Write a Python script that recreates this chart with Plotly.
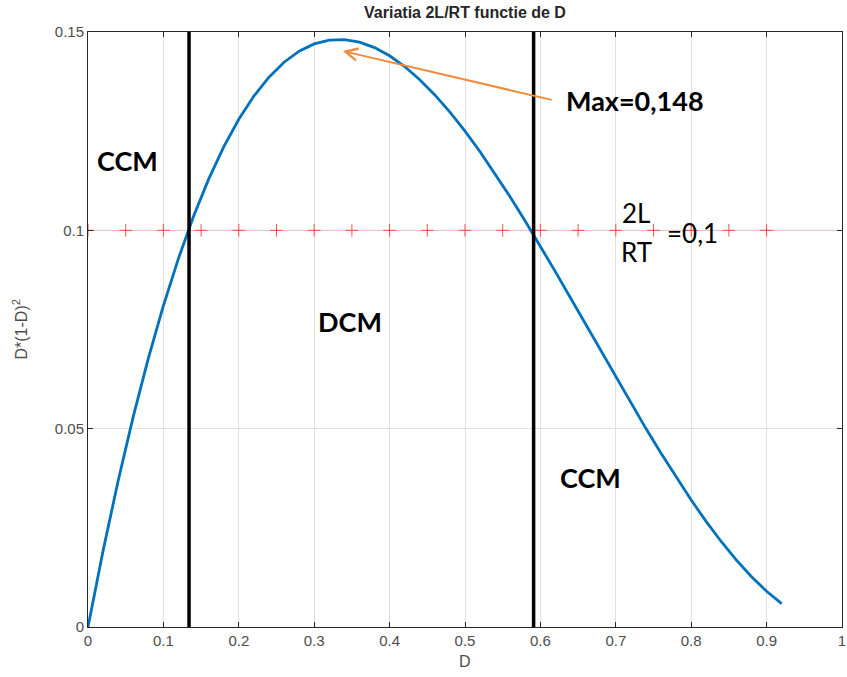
import plotly.graph_objects as go

# Duty cycle D and the normalised boundary value D*(1-D)^2
d_vals = [0.00, 0.02, 0.04, 0.06, 0.08, 0.10, 0.12, 0.14, 0.16, 0.18,
          0.20, 0.22, 0.24, 0.26, 0.28, 0.30, 0.32, 0.34, 0.36, 0.38,
          0.40, 0.42, 0.44, 0.46, 0.48, 0.50, 0.52, 0.54, 0.56, 0.58,
          0.60, 0.62, 0.64, 0.66, 0.68, 0.70, 0.72, 0.74, 0.76, 0.78,
          0.80, 0.82, 0.84, 0.86, 0.88, 0.90, 0.92]
k_vals = [0.0, 0.01921, 0.03686, 0.05302, 0.06771, 0.08100, 0.09293, 0.10354,
          0.11290, 0.12103, 0.12800, 0.13385, 0.13862, 0.14238, 0.14515,
          0.14700, 0.14797, 0.14810, 0.14746, 0.14607, 0.14400, 0.14129,
          0.13798, 0.13414, 0.12979, 0.12500, 0.11981, 0.11426, 0.10842,
          0.10231, 0.09600, 0.08953, 0.08294, 0.07630, 0.06963, 0.06300,
          0.05645, 0.05002, 0.04378, 0.03775, 0.03200, 0.02657, 0.02150,
          0.01686, 0.01267, 0.00900, 0.00589]

# Reference level 2L/RT = 0.1 sampled with markers
ref_d = [0.00, 0.05, 0.10, 0.15, 0.20, 0.25, 0.30, 0.35, 0.40, 0.45,
         0.50, 0.55, 0.60, 0.65, 0.70, 0.75, 0.80, 0.85, 0.90]
ref_level = 0.1

# Mode boundaries (intersections of the curve with the reference level)
boundaries = [0.134, 0.591]

# Maximum of the curve
max_label = "Max=0,148"
max_point = (0.338, 0.1452)
arrow_tail = (0.617, 0.1328)

x_ticks = [0, 0.1, 0.2, 0.3, 0.4, 0.5, 0.6, 0.7, 0.8, 0.9, 1]
x_tick_text = ["0", "0.1", "0.2", "0.3", "0.4", "0.5", "0.6", "0.7", "0.8", "0.9", "1"]
y_ticks = [0, 0.05, 0.1, 0.15]
y_tick_text = ["0", "0.05", "0.1", "0.15"]

fig = go.Figure()

# faint red line through the reference markers
fig.add_trace(go.Scatter(x=[0, 1], y=[ref_level, ref_level], mode="lines",
                         line=dict(color="rgba(255,0,0,0.15)", width=1),
                         hoverinfo="skip", showlegend=False))
fig.add_trace(go.Scatter(x=ref_d, y=[ref_level] * len(ref_d), mode="markers",
                         marker=dict(symbol="cross-thin", size=9,
                                     line=dict(color="rgba(255,60,60,0.9)", width=1)),
                         showlegend=False))

fig.add_trace(go.Scatter(x=d_vals, y=k_vals, mode="lines",
                         line=dict(color="#0072BD", width=2.8),
                         showlegend=False))

for b in boundaries:
    fig.add_trace(go.Scatter(x=[b, b], y=[0, 0.15], mode="lines",
                             line=dict(color="black", width=3.5),
                             showlegend=False))

# arrow pointing to the maximum
fig.add_annotation(x=max_point[0], y=max_point[1], ax=arrow_tail[0], ay=arrow_tail[1],
                   xref="x", yref="y", axref="x", ayref="y", text="",
                   showarrow=True, arrowhead=5, arrowsize=1.2, arrowwidth=2,
                   arrowcolor="#F08A3C", standoff=0)

bold_font = dict(family="Lato, Open Sans, sans-serif", size=27, color="black")
plain_font = dict(family="Lato, Open Sans, sans-serif", size=26, color="black")

fig.add_annotation(x=arrow_tail[0], y=arrow_tail[1], xref="x", yref="y",
                   text="<b>" + max_label + "</b>", showarrow=False,
                   xanchor="left", yanchor="middle", xshift=11, font=bold_font)
fig.add_annotation(x=0.053, y=0.1175, xref="x", yref="y", text="<b>CCM</b>",
                   showarrow=False, font=bold_font)
fig.add_annotation(x=0.347, y=0.077, xref="x", yref="y", text="<b>DCM</b>",
                   showarrow=False, font=bold_font)
fig.add_annotation(x=0.666, y=0.0377, xref="x", yref="y", text="<b>CCM</b>",
                   showarrow=False, font=bold_font)
fig.add_annotation(x=0.727, y=0.1044, xref="x", yref="y", text="2L",
                   showarrow=False, font=plain_font)
fig.add_annotation(x=0.727, y=0.0945, xref="x", yref="y", text="RT",
                   showarrow=False, font=plain_font)
fig.add_annotation(x=0.765, y=0.0993, xref="x", yref="y", text="=0,1",
                   showarrow=False, xanchor="left", font=plain_font)

# axis titles
fig.add_annotation(x=0.5, y=0, xref="paper", yref="paper", yshift=-24,
                   text="D", showarrow=False, yanchor="top",
                   font=dict(family="Liberation Sans, Arial", size=16, color="#4d4d4d"))
fig.add_annotation(x=0, y=0.5, xref="paper", yref="paper", xshift=-68,
                   xanchor="center", yanchor="middle",
                   text="D*(1-D)<sup>2</sup>", showarrow=False, textangle=-90,
                   font=dict(family="Liberation Sans, Arial", size=16, color="#4d4d4d"))

axis_common = dict(showgrid=True, gridcolor="#e1e1e1", gridwidth=1,
                   showline=True, linecolor="#262626", linewidth=1, mirror="ticks",
                   ticks="inside", ticklen=5, tickcolor="#262626", zeroline=False,
                   automargin=False,
                   tickfont=dict(family="Liberation Sans, Arial", size=15, color="#4d4d4d"))

fig.update_xaxes(range=[0, 1], tickvals=x_ticks, ticktext=x_tick_text, **axis_common)
fig.update_yaxes(range=[0, 0.15], tickvals=y_ticks, ticktext=y_tick_text, **axis_common)

fig.update_layout(
    width=847, height=677,
    margin=dict(l=88, r=5, t=32, b=50),
    paper_bgcolor="white", plot_bgcolor="white",
    title=dict(text="<b>Variatia 2L/RT functie de D</b>", x=0.549, xanchor="center",
               y=0.982, yanchor="middle",
               font=dict(family="Liberation Sans, Arial", size=16, color="#262626")),
)

fig.write_html("out.html")
